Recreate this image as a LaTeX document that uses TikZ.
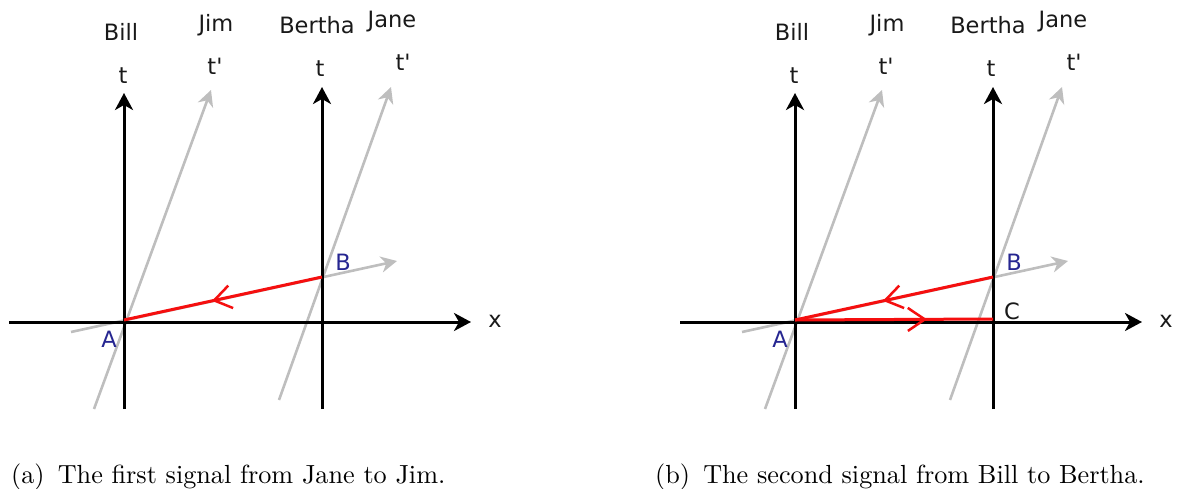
\documentclass[tikz,border=0pt]{standalone}
\usepackage{fontspec}
\newfontfamily\labfont{DejaVu Sans}
\usetikzlibrary{arrows.meta,decorations.markings}
\definecolor{axgray}{RGB}{190,190,190}
\definecolor{sigred}{RGB}{245,15,15}
\definecolor{ptblue}{RGB}{38,38,145}
\definecolor{labink}{RGB}{25,25,25}
\tikzset{
  axisline/.style={line width=3pt,black,-{Stealth[length=17pt,width=18pt,inset=5pt]}},
  faint/.style={axgray,line width=2.6pt,-{Stealth[length=16pt,width=16pt,inset=5pt]}},
  signal/.style={sigred,line width=3pt,postaction={decorate},
    decoration={markings,mark=at position #1 with {\arrow[sigred,line width=2.5pt]{Straight Barb[length=17pt,width=23pt]}}}},
  signal/.default=0.556,
  lab/.style={font=\labfont\fontsize{22.5}{26}\selectfont,text=labink,inner sep=0pt},
  ptlab/.style={font=\labfont\fontsize{22.5}{26}\selectfont,text=ptblue,inner sep=0pt},
  captxt/.style={anchor=base west,inner sep=0pt}
}
\newcommand{\captext}[1]{\scalebox{2.62}{\fontsize{10}{12}\selectfont #1}}
\begin{document}
\begin{tikzpicture}[x=1pt,y=-1pt]
\useasboundingbox (0,0) rectangle (1178,489);

% ---------- panel (a) ----------
\coordinate (aA) at (124,320);
\coordinate (aB) at (322,277);
\coordinate (aBillS) at (124,409);  \coordinate (aBillE) at (124,93);
\coordinate (aBerS) at (322,409);   \coordinate (aBerE) at (322,87);
\coordinate (aJimS) at (94,409);    \coordinate (aJimE) at (211,90);
\coordinate (aJaneS) at (279,400);  \coordinate (aJaneE) at (391,87);
\coordinate (aXpS) at (71,332);     \coordinate (aXpE) at (397,261);
\coordinate (aXS) at (9,322);       \coordinate (aXE) at (471,322);

\draw[faint] (aJimS) -- (aJimE);
\draw[faint] (aJaneS) -- (aJaneE);
\draw[faint] (aXpS) -- (aXpE);
\draw[axisline] (aXS) -- (aXE);
\draw[axisline] (aBillS) -- (aBillE);
\draw[axisline] (aBerS) -- (aBerE);
\draw[signal] (aB) -- (aA);

\node[lab] (aBill) at (121,32) {Bill};
\node[lab] (aJim) at (216,25) {Jim};
\node[lab] (aBertha) at (317,25) {Bertha};
\node[lab] (aJane) at (392,22) {Jane};
\node[lab] (aT1) at (123,76) {t};
\node[lab] (aT2) at (215,66) {t'};
\node[lab] (aT3) at (320,69) {t};
\node[lab] (aT4) at (403,62) {t'};
\node[lab] (aX) at (495,321) {x};
\node[ptlab] (aLA) at (109,339) {A};
\node[ptlab] (aLB) at (343,262) {B};

% ---------- panel (b) ----------
\coordinate (bA) at (795,320);
\coordinate (bB) at (993,277);
\coordinate (bC) at (993,319);
\coordinate (bBillS) at (795,409);  \coordinate (bBillE) at (795,93);
\coordinate (bBerS) at (993,409);   \coordinate (bBerE) at (993,87);
\coordinate (bJimS) at (765,409);   \coordinate (bJimE) at (882,90);
\coordinate (bJaneS) at (950,400);  \coordinate (bJaneE) at (1062,87);
\coordinate (bXpS) at (742,332);    \coordinate (bXpE) at (1068,261);
\coordinate (bXS) at (680,322);     \coordinate (bXE) at (1142,322);

\draw[faint] (bJimS) -- (bJimE);
\draw[faint] (bJaneS) -- (bJaneE);
\draw[faint] (bXpS) -- (bXpE);
\draw[axisline] (bXS) -- (bXE);
\draw[axisline] (bBillS) -- (bBillE);
\draw[axisline] (bBerS) -- (bBerE);
\draw[signal] (bB) -- (bA);
\draw[signal=0.667] (bA) -- (bC);

\node[lab] (bBill) at (792,32) {Bill};
\node[lab] (bJim) at (887,25) {Jim};
\node[lab] (bBertha) at (988,25) {Bertha};
\node[lab] (bJane) at (1063,22) {Jane};
\node[lab] (bT1) at (794,76) {t};
\node[lab] (bT2) at (886,66) {t'};
\node[lab] (bT3) at (991,69) {t};
\node[lab] (bT4) at (1074,62) {t'};
\node[lab] (bX) at (1166,321) {x};
\node[ptlab] (bLA) at (780,339) {A};
\node[ptlab] (bLB) at (1014,262) {B};
\node[lab] (bLC) at (1012,311) {C};

% ---------- captions ----------
\node[captxt] (capa) at (11,483) {\captext{(a)\enspace The first signal from Jane to Jim.}};
\node[captxt] (capb) at (655,483) {\captext{(b)\enspace The second signal from Bill to Bertha.}};
\end{tikzpicture}
\end{document}
